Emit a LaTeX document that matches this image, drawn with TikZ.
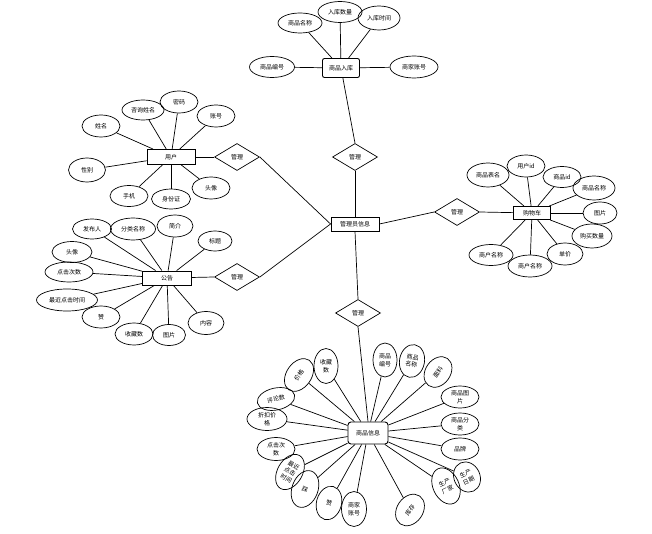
\documentclass[tikz,border=0pt]{standalone}
\usepackage{fontspec}
\newfontfamily\cjk{Noto Sans CJK SC}
\usetikzlibrary{shapes.geometric}
\tikzset{
 attr/.style={ellipse, draw, line width=0.7pt, inner sep=0.5pt},
 sz/.style 2 args={minimum width=#1pt, minimum height=#2pt},
 ent/.style={rectangle, draw, line width=0.9pt, inner sep=1pt},
 rel/.style={diamond, draw, line width=0.7pt, inner sep=0pt, minimum width=45pt, minimum height=27pt, aspect=1.67},
 ln/.style={line width=0.7pt}}
\begin{document}
\begin{tikzpicture}[x=1pt,y=-1pt,
 every node/.style={font=\cjk\fontsize{6}{7.6}\selectfont, align=center}]
\useasboundingbox (0,0) rectangle (652,534);

% entities
\node[ent, rounded corners=2pt, sz={37}{19}] (stockin) at (341,68) {商品入库};
\node[ent, sz={48}{14}] (admin) at (355,224) {管理员信息};
\node[ent, sz={48}{15}] (user) at (171,157) {用户};
\node[ent, sz={49}{14}] (notice) at (167,278) {公告};
\node[ent, sz={37}{13}] (cart) at (532,213) {购物车};
\node[ent, rounded corners=3pt, sz={40}{22}] (prod) at (368,433) {商品信息};

% relations
\node[rel] (dtop) at (355,157) {管理};
\node[rel] (duser) at (237,157) {管理};
\node[rel] (dnote) at (237,277) {管理};
\node[rel] (dbot) at (358,313) {管理};
\node[rel] (dcart) at (457,212) {管理};

\draw[ln] (dtop.north) -- (stockin);
\draw[ln] (dtop.south) -- (admin.north);
\draw[ln] (user) -- (duser.west);
\draw[ln] (duser.east) -- (admin.west);
\draw[ln] (notice) -- (dnote.west);
\draw[ln] (dnote.east) -- (admin.west);
\draw[ln] (admin.east) -- (dcart.west);
\draw[ln] (dcart.east) -- (cart);
\draw[ln] (admin.south) -- (dbot.north);
\draw[ln] (dbot.south) -- (prod.north);

% stock-in attributes
\node[attr, sz={44}{20}] (s1) at (300,23) {商品名称};
\node[attr, sz={44}{21}] (s2) at (340,12) {入库数量};
\node[attr, sz={42}{24}] (s3) at (379,18) {入库时间};
\node[attr, sz={45}{21}] (s4) at (272,67) {商品编号};
\node[attr, sz={48}{22}] (s5) at (414,67) {商家账号};
\foreach \a in {s1,s2,s3,s4,s5} \draw[ln] (\a) -- (stockin);

% user attributes
\node[attr, sz={38}{22}] (u1) at (101,126) {姓名};
\node[attr, sz={42}{20}] (u2) at (143,110) {咨询姓名};
\node[attr, sz={38}{22}] (u3) at (179,102) {密码};
\node[attr, sz={38}{22}] (u4) at (216,116) {账号};
\node[attr, sz={37}{24}] (u5) at (87,170) {性别};
\node[attr, sz={38}{21}] (u6) at (129,196) {手机};
\node[attr, sz={39}{20}] (u7) at (171,199) {身份证};
\node[attr, sz={38}{22}] (u8) at (211,188) {头像};
\foreach \a in {u1,u2,u3,u4,u5,u6,u7,u8} \draw[ln] (\a) -- (user);

% notice attributes
\node[attr, sz={39}{20}] (n1) at (92,229) {发布人};
\node[attr, sz={45}{22}] (n2) at (133,229) {分类名称};
\node[attr, sz={36}{22}] (n3) at (175,226) {简介};
\node[attr, sz={34}{20}] (n4) at (215,241) {标题};
\node[attr, sz={40}{21}] (n5) at (72,252) {头像};
\node[attr, sz={48}{20}] (n6) at (69,272) {点击次数};
\node[attr, sz={61}{22}] (n7) at (67,300) {最近点击时间};
\node[attr, sz={38}{22}] (n8) at (101,317) {赞};
\node[attr, sz={38}{22}] (n9) at (134,334) {收藏数};
\node[attr, sz={33}{21}] (n10) at (169,335) {图片};
\node[attr, sz={36}{23}] (n11) at (206,323) {内容};
\foreach \a in {n1,n2,n3,n4,n5,n6,n7,n8,n9,n10,n11} \draw[ln] (\a) -- (notice);

% cart attributes
\node[attr, sz={42}{24}] (c1) at (488,175) {商品表名};
\node[attr, sz={38}{22}] (c2) at (526,166) {用户id};
\node[attr, sz={38}{21}] (c3) at (562,177) {商品id};
\node[attr, sz={42}{24}] (c4) at (594,188) {商品名称};
\node[attr, sz={34}{22}] (c5) at (600,213) {图片};
\node[attr, sz={40}{24}] (c6) at (592,236) {购买数量};
\node[attr, sz={36}{22}] (c7) at (565,254) {单价};
\node[attr, sz={44}{22}] (c8) at (530,266) {商户名称};
\node[attr, sz={44}{21}] (c9) at (491,255) {商户名称};
\foreach \a in {c1,c2,c3,c4,c5,c6,c7,c8,c9} \draw[ln] (\a) -- (cart);

% product attributes
\node[attr, sz={36}{25}, rotate=55] (p1) at (299,375) {价格};
\node[attr, sz={24}{35}] (p2) at (326,366) {收藏\\数};
\node[attr, sz={24}{34}] (p3) at (385,360) {商品\\编号};
\node[attr, sz={25}{33}, rotate=-10] (p4) at (412,361) {商品\\名称};
\node[attr, sz={33}{25}, rotate=55] (p5) at (438,372) {面料};
\node[attr, sz={38}{22}] (p6) at (460,397) {商品图\\片};
\node[attr, sz={38}{22}] (p7) at (460,424) {商品分\\类};
\node[attr, sz={38}{22}] (p8) at (460,449) {品牌};
\node[attr, sz={38}{22}, rotate=12] (p9) at (276,399) {评论数};
\node[attr, sz={40}{23}] (p10) at (267,419) {折扣价\\格};
\node[attr, sz={38}{23}] (p11) at (276,449) {点击次\\数};
\node[attr, sz={25}{38}, rotate=-30] (p12) at (290,472) {最近\\点击\\时间};
\node[attr, sz={26}{38}, rotate=-20] (p13) at (305,489) {踩};
\node[attr, sz={25}{34}, rotate=-15] (p14) at (329,503) {赞};
\node[attr, sz={25}{35}] (p15) at (354,509) {商家\\账号};
\node[attr, sz={34}{26}, rotate=55] (p16) at (410,510) {库存};
\node[attr, sz={26}{38}, rotate=25] (p17) at (446,486) {生产\\厂家};
\node[attr, sz={26}{31}, rotate=25] (p18) at (467,477) {生产\\日期};
\foreach \a in {p1,p2,p3,p4,p5,p6,p7,p8,p9,p10,p11,p12,p13,p14,p15,p16,p17,p18} \draw[ln] (\a) -- (prod);
\end{tikzpicture}
\end{document}
